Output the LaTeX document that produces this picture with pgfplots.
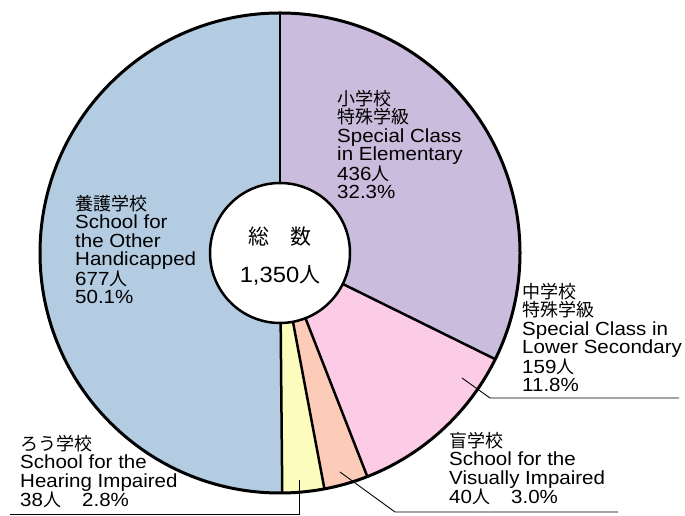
\documentclass[border=0pt]{standalone}
\usepackage{pgfplots}
\pgfplotsset{compat=1.18}
\usepackage{pgfplotstable}
\usepackage{fontspec}
\setmainfont{Liberation Sans}[FakeStretch=1.08]
\newfontfamily\jp{Noto Sans CJK JP}
\definecolor{cElem}{RGB}{202,188,220}
\definecolor{cLow}{RGB}{252,204,230}
\definecolor{cVis}{RGB}{252,204,184}
\definecolor{cHear}{RGB}{252,252,188}
\definecolor{cOther}{RGB}{180,204,226}
\pgfplotstableread{
count color
436 cElem
159 cLow
40 cVis
38 cHear
677 cOther
}\piedata
\def\cx{280}\def\cy{263}
\begin{document}
\begin{tikzpicture}
\begin{axis}[x=1pt,y=1pt,xmin=0,xmax=685,ymin=0,ymax=516,hide axis,clip=false,scale only axis]
\path (axis cs:0,0) rectangle (axis cs:685,516);
\pgfplotsextra{
  \pgfplotstablegetrowsof{\piedata}
  \pgfmathtruncatemacro{\nrows}{\pgfplotsretval-1}
  \gdef\cum{0}
  \foreach \i in {0,...,\nrows}{
    \pgfplotstablegetelem{\i}{count}\of\piedata \let\v\pgfplotsretval
    \pgfplotstablegetelem{\i}{color}\of\piedata \let\c\pgfplotsretval
    \pgfmathsetmacro\a{90-\cum/1350*360}
    \pgfmathsetmacro\newcum{\cum+\v}
    \pgfmathsetmacro\b{90-\newcum/1350*360}
    \fill[fill=\c] (axis cs:\cx,\cy) -- ++(\a:240pt) arc[start angle=\a,end angle=\b,radius=240pt] -- cycle;
    \xdef\cum{\newcum}
  }
  \gdef\cum{0}
  \foreach \i in {0,...,\nrows}{
    \pgfplotstablegetelem{\i}{count}\of\piedata \let\v\pgfplotsretval
    \pgfmathsetmacro\a{90-\cum/1350*360}
    \draw[line width=2.5pt] (axis cs:\cx,\cy) -- ++(\a:240pt);
    \pgfmathsetmacro\newcum{\cum+\v}
    \xdef\cum{\newcum}
  }
  \draw[line width=3pt] (axis cs:\cx,\cy) circle[radius=240pt];
  \filldraw[fill=white,draw=black,line width=2.5pt] (axis cs:\cx,\cy) circle[radius=70pt];
  % leader lines
  \draw[line width=0.9pt] (axis cs:462,138) -- (axis cs:490,118) -- (axis cs:679,118);
  \draw[line width=0.9pt] (axis cs:340,44) -- (axis cs:395,4) -- (axis cs:618,4);
  \draw[line width=0.9pt] (axis cs:299,36) -- (axis cs:299,2) -- (axis cs:10,2);
  % labels
  \node[anchor=north west,inner sep=0pt,align=left,font=\fontsize{19}{18.5}\selectfont] at (axis cs:337,426)
    {{\jp\fontsize{18}{18.5}\selectfont 小学校}\\{\jp\fontsize{18}{18.5}\selectfont 特殊学級}\\Special Class\\in Elementary\\436{\jp\fontsize{18}{18.5}\selectfont 人}\\32.3\%};
  \node[anchor=north west,inner sep=0pt,align=left,font=\fontsize{19}{18.5}\selectfont] at (axis cs:522,233)
    {{\jp\fontsize{18}{18.5}\selectfont 中学校}\\{\jp\fontsize{18}{18.5}\selectfont 特殊学級}\\Special Class in\\Lower Secondary\\159{\jp\fontsize{18}{18.5}\selectfont 人}\\11.8\%};
  \node[anchor=north west,inner sep=0pt,align=left,font=\fontsize{19}{18.5}\selectfont] at (axis cs:449,84)
    {{\jp\fontsize{18}{18.5}\selectfont 盲学校}\\School for the\\Visually Impaired\\40{\jp\fontsize{18}{18.5}\selectfont 人　}\,3.0\%};
  \node[anchor=north west,inner sep=0pt,align=left,font=\fontsize{19}{18.5}\selectfont] at (axis cs:20,81)
    {{\jp\fontsize{18}{18.5}\selectfont ろう学校}\\School for the\\Hearing Impaired\\38{\jp\fontsize{18}{18.5}\selectfont 人　}\,2.8\%};
  \node[anchor=north west,inner sep=0pt,align=left,font=\fontsize{19}{18.5}\selectfont] at (axis cs:75,321)
    {{\jp\fontsize{18}{18.5}\selectfont 養護学校}\\School for\\the Other\\Handicapped\\677{\jp\fontsize{18}{18.5}\selectfont 人}\\50.1\%};
  \node[font=\fontsize{21}{22}\selectfont] at (axis cs:280,279) {{\jp 総　数}};
  \node[font=\fontsize{22}{22}\selectfont] at (axis cs:280,241) {1,350{\jp\fontsize{21}{22}\selectfont 人}};
}
\end{axis}
\end{tikzpicture}
\end{document}
